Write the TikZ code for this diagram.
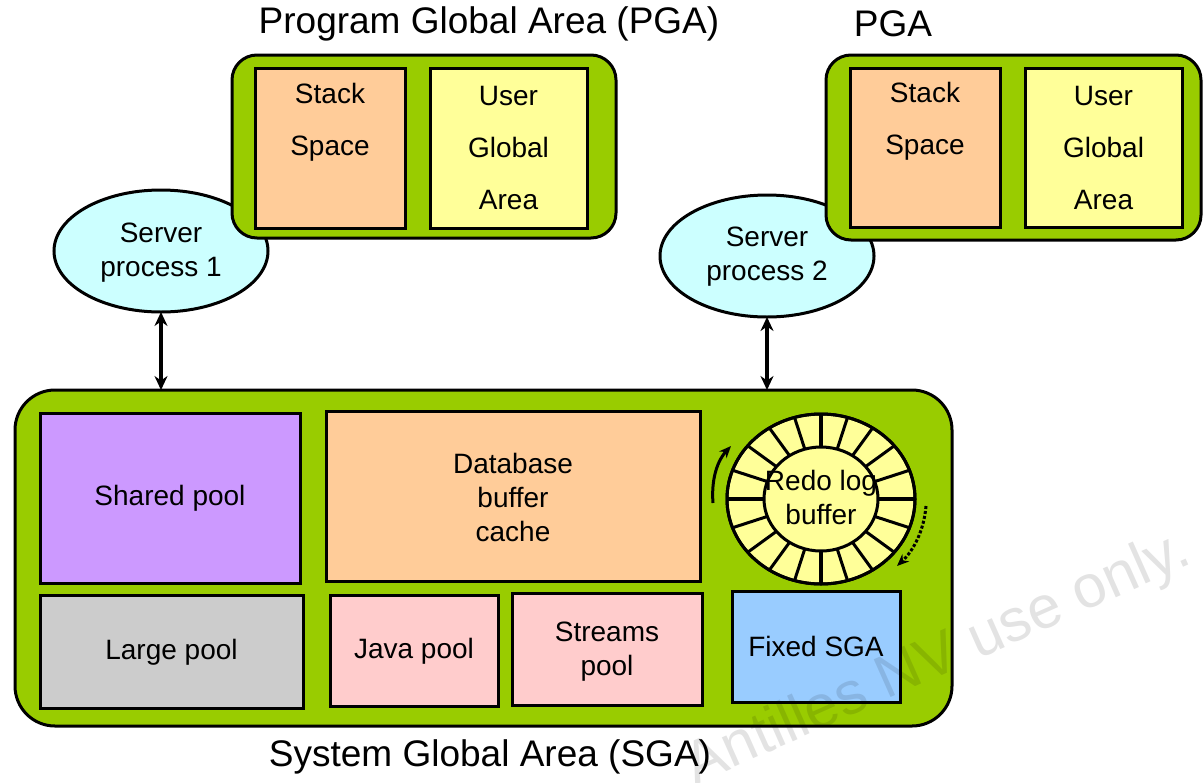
\documentclass[tikz,border=0pt]{standalone}
\usepackage{fontspec}
\setmainfont{Liberation Sans}
\usetikzlibrary{arrows.meta,shapes.geometric}
\definecolor{grn}{HTML}{99CC00}
\definecolor{peach}{HTML}{FFCC99}
\definecolor{yel}{HTML}{FFFF99}
\definecolor{cyanl}{HTML}{CCFFFF}
\definecolor{purp}{HTML}{CC99FF}
\definecolor{grey}{HTML}{CCCCCC}
\definecolor{pinkl}{HTML}{FFCCCC}
\definecolor{bluel}{HTML}{99CCFF}
\begin{document}
\begin{tikzpicture}[x=1pt,y=-1pt,
  every node/.style={inner sep=0pt, outer sep=0pt, font=\fontsize{28}{34}\selectfont, align=center},
  area/.style={draw=black, line width=3pt, fill=grn, rounded corners=#1},
  mem/.style={draw=black, line width=3pt},
  proc/.style={ellipse, draw=black, line width=3pt, fill=cyanl, minimum width=214pt, minimum height=122pt},
  title/.style={font=\fontsize{37}{40}\selectfont},
  tall/.style={font=\fontsize{28}{52}\selectfont},
  biarrow/.style={line width=4pt, {Stealth[length=14pt,width=13pt]}-{Stealth[length=14pt,width=13pt]}}
]
\useasboundingbox (0,0) rectangle (1204,782);

% titles
\node[title] (t1) at (489,24) {Program Global Area (PGA)};
\node[title] (t2) at (893,24) {PGA};
\node[title] (t3) at (490,757) {System Global Area (SGA)};

% server processes (behind PGA boxes)
\node[proc] (sp1) at (161,251) {};
\node (sp1t) at (161,253) {Server\\process 1};
\node[proc] (sp2) at (767,256) {};
\node (sp2t) at (767,257) {Server\\process 2};

% PGA 1
\node[area=25pt, minimum width=384pt, minimum height=183pt] (pga1) at (424,146.5) {};
\node[mem, fill=peach, minimum width=150pt, minimum height=160pt] (st1) at (330,148) {};
\node[mem, fill=yel, minimum width=157pt, minimum height=160pt] (ug1) at (508.5,148) {};
\node[tall] (st1t) at (330,122) {Stack\\Space};
\node[tall] (ug1t) at (508.5,148) {User\\Global\\Area};

% PGA 2
\node[area=25pt, minimum width=375pt, minimum height=185pt] (pga2) at (1013.5,147.5) {};
\node[mem, fill=peach, minimum width=150pt, minimum height=159pt] (st2) at (925,147.5) {};
\node[mem, fill=yel, minimum width=157pt, minimum height=159pt] (ug2) at (1103.5,147.5) {};
\node[tall] (st2t) at (925,121) {Stack\\Space};
\node[tall] (ug2t) at (1103.5,148) {User\\Global\\Area};

% SGA
\node[area=40pt, minimum width=937pt, minimum height=336pt] (sga) at (483.5,558) {};
\node[mem, fill=purp, minimum width=260pt, minimum height=170pt] (shp) at (170,498) {Shared pool};
\node[mem, fill=grey, minimum width=263pt, minimum height=113pt] (lgp) at (171.5,652) {Large pool};
\node[mem, fill=peach, minimum width=374pt, minimum height=170pt] (dbc) at (513,496) {};
\node (dbct) at (513,497) {Database\\buffer\\cache};
\node[mem, fill=pinkl, minimum width=168pt, minimum height=111pt] (jvp) at (414,651) {Java pool};
\node[mem, fill=pinkl, minimum width=190pt, minimum height=112pt] (stp) at (607,649) {};
\node (stpt) at (607,652) {Streams\\pool};
\node[mem, fill=bluel, minimum width=168pt, minimum height=111pt] (fix) at (816,646.5) {Fixed SGA};

% redo log buffer wheel
\node[ellipse, draw=black, line width=3pt, fill=yel, minimum width=188pt, minimum height=170pt] (redo) at (821,499) {};
\node[ellipse, draw=black, line width=3pt, fill=yel, minimum width=114pt, minimum height=104pt] (rin) at (821,499) {};
\foreach \a in {18,36,54,72,108,126,144,162,198,216,234,252,288,306,324,342}
  \draw[line width=3pt] (rin.\a) -- (redo.\a);
\foreach \a in {0,90,180,270}
  \draw[line width=4.5pt] (rin.\a) -- (redo.\a);
\draw[line width=3pt] (redo) ellipse [x radius=94pt, y radius=85pt];
\node (redot) at (821,497) {Redo log\\buffer};
\draw[line width=3pt, -{Stealth[length=12pt,width=10pt]}] (713,503) .. controls (711,478) and (718,460) .. (731,446);
\draw[line width=3pt, dotted, -{Stealth[length=12pt,width=10pt]}] (926,506) .. controls (924,530) and (914,550) .. (897,566);

% connectors
\coordinate (c1) at (sp1.south |- sga.north);
\coordinate (c2) at (sp2.south |- sga.north);
\draw[biarrow] (sp1.south) -- (c1);
\draw[biarrow] (sp2.south) -- (c2);

% watermark
\node[rotate=24, font=\fontsize{60}{64}\selectfont, text=black, text opacity=0.11] (wm) at (938,660) {Antilles NV use only.};
\end{tikzpicture}
\end{document}
